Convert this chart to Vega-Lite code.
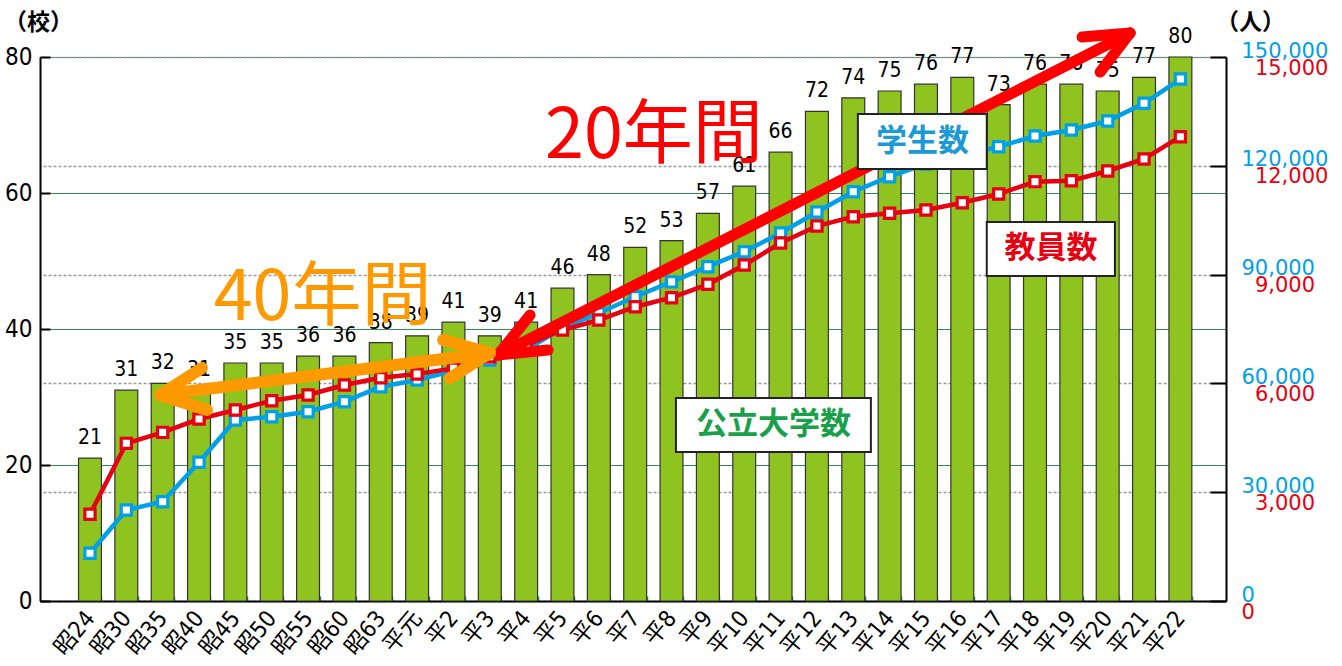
{
  "$schema": "https://vega.github.io/schema/vega-lite/v6.json",
  "autosize": {"type": "none"},
  "width": 1186,
  "height": 544,
  "padding": {"left": 40, "top": 57, "right": 116, "bottom": 65},
  "config": {"view": {"stroke": null}},
  "datasets": {
    "main": [
      {"cat": "昭24", "schools": 21, "students": 13150, "teachers": 2390},
      {"cat": "昭30", "schools": 31, "students": 25090, "teachers": 4347},
      {"cat": "昭35", "schools": 32, "students": 27380, "teachers": 4650},
      {"cat": "昭40", "schools": 31, "students": 38240, "teachers": 5018},
      {"cat": "昭45", "schools": 35, "students": 49900, "teachers": 5266},
      {"cat": "昭50", "schools": 35, "students": 50820, "teachers": 5523},
      {"cat": "昭55", "schools": 36, "students": 52200, "teachers": 5680},
      {"cat": "昭60", "schools": 36, "students": 54960, "teachers": 5956},
      {"cat": "昭63", "schools": 38, "students": 59100, "teachers": 6157},
      {"cat": "平元", "schools": 39, "students": 60940, "teachers": 6259},
      {"cat": "平2", "schools": 41, "students": 63500, "teachers": 6415},
      {"cat": "平3", "schools": 39, "students": 66450, "teachers": 6737},
      {"cat": "平4", "schools": 41, "students": 69200, "teachers": 7059},
      {"cat": "平5", "schools": 46, "students": 75300, "teachers": 7472},
      {"cat": "平6", "schools": 48, "students": 79400, "teachers": 7748},
      {"cat": "平7", "schools": 52, "students": 83900, "teachers": 8115},
      {"cat": "平8", "schools": 53, "students": 88000, "teachers": 8363},
      {"cat": "平9", "schools": 57, "students": 92180, "teachers": 8732},
      {"cat": "平10", "schools": 61, "students": 96320, "teachers": 9265},
      {"cat": "平11", "schools": 66, "students": 101470, "teachers": 9871},
      {"cat": "平12", "schools": 72, "students": 107260, "teachers": 10340},
      {"cat": "平13", "schools": 74, "students": 112860, "teachers": 10597},
      {"cat": "平14", "schools": 75, "students": 117000, "teachers": 10689},
      {"cat": "平15", "schools": 76, "students": 120500, "teachers": 10781},
      {"cat": "平16", "schools": 77, "students": 122800, "teachers": 10983},
      {"cat": "平17", "schools": 73, "students": 125270, "teachers": 11222},
      {"cat": "平18", "schools": 76, "students": 128220, "teachers": 11563},
      {"cat": "平19", "schools": 76, "students": 129870, "teachers": 11590},
      {"cat": "平20", "schools": 75, "students": 132350, "teachers": 11857},
      {"cat": "平21", "schools": 77, "students": 137230, "teachers": 12188},
      {"cat": "平22", "schools": 80, "students": 143930, "teachers": 12803}
    ],
    "arrows": [
      {"arrow": "red", "x1": 11.20, "y1": 36.18, "x2": 28.71, "y2": 83.53},
      {"arrow": "red", "x1": 28.71, "y1": 83.53, "x2": 27.38, "y2": 82.94},
      {"arrow": "red", "x1": 28.71, "y1": 83.53, "x2": 27.88, "y2": 77.79},
      {"arrow": "red", "x1": 11.20, "y1": 36.18, "x2": 12.09, "y2": 42.06},
      {"arrow": "red", "x1": 11.20, "y1": 36.18, "x2": 12.59, "y2": 36.91},
      {"arrow": "orange", "x1": 1.84, "y1": 30.29, "x2": 10.98, "y2": 36.47},
      {"arrow": "orange", "x1": 1.84, "y1": 30.29, "x2": 3.00, "y2": 34.26},
      {"arrow": "orange", "x1": 1.84, "y1": 30.29, "x2": 3.14, "y2": 28.09},
      {"arrow": "orange", "x1": 10.98, "y1": 36.47, "x2": 9.68, "y2": 38.38},
      {"arrow": "orange", "x1": 10.98, "y1": 36.47, "x2": 9.87, "y2": 32.79}
    ],
    "boxes": [
      {"label": "学生数", "kind": "students", "x1": 21.17, "x2": 24.74, "y1": 63.53, "y2": 71.62, "xc": 22.96, "yc": 67.57},
      {"label": "教員数", "kind": "teachers", "x1": 24.74, "x2": 28.29, "y1": 47.79, "y2": 55.74, "xc": 26.52, "yc": 51.76},
      {"label": "公立大学数", "kind": "schools", "x1": 16.13, "x2": 21.53, "y1": 21.91, "y2": 29.85, "xc": 18.83, "yc": 25.88}
    ],
    "notes": [
      {"label": "20年間", "kind": "red", "x": 15.52, "y": 68.2},
      {"label": "40年間", "kind": "orange", "x": 6.34, "y": 44.4}
    ]
  },
  "layer": [
    {
      "data": {"name": "main"},
      "layer": [
        {
          "layer": [
            {
              "mark": {"type": "bar", "fill": "#8fc31f", "stroke": "#333333", "strokeWidth": 1.2},
              "encoding": {
                "x": {
                  "field": "cat", "type": "nominal", "sort": null,
                  "scale": {"paddingInner": 0.37, "paddingOuter": 1.11, "align": 0.53},
                  "axis": {
                    "title": null, "orient": "bottom",
                    "domainColor": "#000000", "domainWidth": 2,
                    "tickColor": "#1a9060", "tickSize": -5, "tickWidth": 1.5, "tickBand": "extent",
                    "labelAngle": -50, "labelAlign": "right", "labelBaseline": "middle",
                    "labelPadding": 18,
                    "labelFont": "Liberation Sans Narrow, DejaVu Sans Condensed, Noto Sans CJK JP",
                    "labelFontSize": 23, "labelColor": "#000000"
                  }
                },
                "y": {
                  "field": "schools", "type": "quantitative",
                  "scale": {"domain": [0, 80], "nice": false},
                  "axis": {
                    "orient": "left", "values": [0, 20, 40, 60, 80],
                    "domainColor": "#000000", "domainWidth": 2,
                    "tickColor": "#000000", "tickSize": -10, "tickWidth": 2,
                    "grid": true, "gridColor": "#2e8b57", "gridWidth": 1.2,
                    "labelFont": "Liberation Sans Narrow, DejaVu Sans Condensed, Liberation Sans",
                    "labelFontSize": 24, "labelColor": "#000000", "labelPadding": 18,
                    "title": "（校）", "titleAngle": 0, "titleX": -2, "titleY": -35,
                    "titleAlign": "center", "titleBaseline": "middle",
                    "titleFont": "Noto Sans CJK JP", "titleFontSize": 23, "titleFontWeight": "bold", "titleColor": "#000000"
                  }
                }
              }
            },
            {
              "mark": {"type": "text", "baseline": "alphabetic", "dy": -14, "fontSize": 21,
                       "font": "Liberation Sans Narrow, DejaVu Sans Condensed, Liberation Sans", "color": "#000000"},
              "encoding": {
                "x": {"field": "cat", "type": "nominal", "sort": null},
                "y": {"field": "schools", "type": "quantitative"},
                "text": {"field": "schools", "type": "quantitative"}
              }
            }
          ]
        },
        {
          "layer": [
            {
              "mark": {"type": "line", "color": "#00a0e9", "strokeWidth": 4.5},
              "encoding": {
                "x": {"field": "cat", "type": "nominal", "sort": null},
                "y": {
                  "field": "students", "type": "quantitative",
                  "scale": {"domain": [0, 150000], "nice": false},
                  "axis": {
                    "orient": "right", "values": [0, 30000, 60000, 90000, 120000, 150000],
                    "domainColor": "#000000", "domainWidth": 2,
                    "tickColor": "#000000", "tickSize": -16, "tickWidth": 2,
                    "grid": true, "gridColor": "#9a9a9a", "gridDash": [3, 2], "gridWidth": 1.5,
                    "labelFont": "DejaVu Sans", "labelFontSize": 21, "labelColor": "#00a0e9",
                    "labelAlign": "left", "labelPadding": 31, "labelOffset": -6,
                    "labelExpr": "format(datum.value, ',')",
                    "title": "（人）", "titleAngle": 0, "titleX": 24, "titleY": -35,
                    "titleAlign": "center", "titleBaseline": "middle",
                    "titleFont": "Noto Sans CJK JP", "titleFontSize": 23, "titleFontWeight": "bold", "titleColor": "#000000"
                  }
                }
              }
            },
            {
              "mark": {"type": "point", "shape": "square", "filled": true, "fill": "#ffffff", "stroke": "#00a0e9", "strokeWidth": 3.2, "size": 105, "opacity": 1},
              "encoding": {
                "x": {"field": "cat", "type": "nominal", "sort": null},
                "y": {"field": "students", "type": "quantitative"}
              }
            }
          ]
        },
        {
          "layer": [
            {
              "mark": {"type": "line", "color": "#e60012", "strokeWidth": 4.5},
              "encoding": {
                "x": {"field": "cat", "type": "nominal", "sort": null},
                "y": {
                  "field": "teachers", "type": "quantitative",
                  "scale": {"domain": [0, 15000], "nice": false},
                  "axis": {
                    "orient": "right", "values": [0, 3000, 6000, 9000, 12000, 15000],
                    "domain": false, "ticks": false, "grid": false,
                    "labelFont": "DejaVu Sans", "labelFontSize": 21, "labelColor": "#e60012",
                    "labelAlign": "left", "labelOffset": 11,
                    "labelPadding": {"condition": {"test": "datum.value == 0", "value": 15}, "value": 28.4},
                    "labelExpr": "format(datum.value, ',')",
                    "title": null
                  }
                }
              }
            },
            {
              "mark": {"type": "point", "shape": "square", "filled": true, "fill": "#ffffff", "stroke": "#e60012", "strokeWidth": 3.2, "size": 105, "opacity": 1},
              "encoding": {
                "x": {"field": "cat", "type": "nominal", "sort": null},
                "y": {"field": "teachers", "type": "quantitative"}
              }
            }
          ]
        }
      ],
      "resolve": {"scale": {"y": "independent"}, "axis": {"y": "independent"}}
    },
    {
      "layer": [
        {
          "data": {"name": "arrows"},
          "transform": [{"filter": "datum.arrow == 'red'"}],
          "mark": {"type": "rule", "color": "#ff0000", "strokeWidth": 11, "strokeCap": "round"},
          "encoding": {
            "x": {"field": "x1", "type": "quantitative", "scale": {"domain": [-1.486, 31.367], "nice": false, "zero": false}, "axis": null},
            "x2": {"field": "x2"},
            "y": {"field": "y1", "type": "quantitative", "scale": {"domain": [0, 80], "nice": false}, "axis": null},
            "y2": {"field": "y2"}
          }
        },
        {
          "data": {"name": "arrows"},
          "transform": [{"filter": "datum.arrow == 'orange'"}],
          "mark": {"type": "rule", "color": "#ff9900", "strokeWidth": 12, "strokeCap": "round"},
          "encoding": {
            "x": {"field": "x1", "type": "quantitative"},
            "x2": {"field": "x2"},
            "y": {"field": "y1", "type": "quantitative"},
            "y2": {"field": "y2"}
          }
        },
        {
          "data": {"name": "boxes"},
          "mark": {"type": "rect", "fill": "#ffffff", "stroke": "#222222", "strokeWidth": 2},
          "encoding": {
            "x": {"field": "x1", "type": "quantitative"},
            "x2": {"field": "x2"},
            "y": {"field": "y1", "type": "quantitative"},
            "y2": {"field": "y2"}
          }
        },
        {
          "data": {"name": "boxes"},
          "mark": {"type": "text", "font": "Noto Sans CJK JP", "fontSize": 31, "fontWeight": "bold", "align": "center", "baseline": "middle"},
          "encoding": {
            "x": {"field": "xc", "type": "quantitative"},
            "y": {"field": "yc", "type": "quantitative"},
            "text": {"field": "label"},
            "color": {"field": "kind", "type": "nominal", "legend": null,
                      "scale": {"domain": ["students", "teachers", "schools", "red", "orange"], "range": ["#1b9ad6", "#e60012", "#1aa04b", "#ff0000", "#ff9900"]}}
          }
        },
        {
          "data": {"name": "notes"},
          "mark": {"type": "text", "font": "Noto Sans CJK JP", "fontSize": 70, "fontWeight": "normal", "align": "center", "baseline": "middle"},
          "encoding": {
            "x": {"field": "x", "type": "quantitative"},
            "y": {"field": "y", "type": "quantitative"},
            "text": {"field": "label"},
            "color": {"field": "kind", "type": "nominal", "legend": null,
                      "scale": {"domain": ["students", "teachers", "schools", "red", "orange"], "range": ["#1b9ad6", "#e60012", "#1aa04b", "#ff0000", "#ff9900"]}}
          }
        }
      ]
    }
  ],
  "resolve": {"scale": {"x": "independent", "y": "independent"}}
}
